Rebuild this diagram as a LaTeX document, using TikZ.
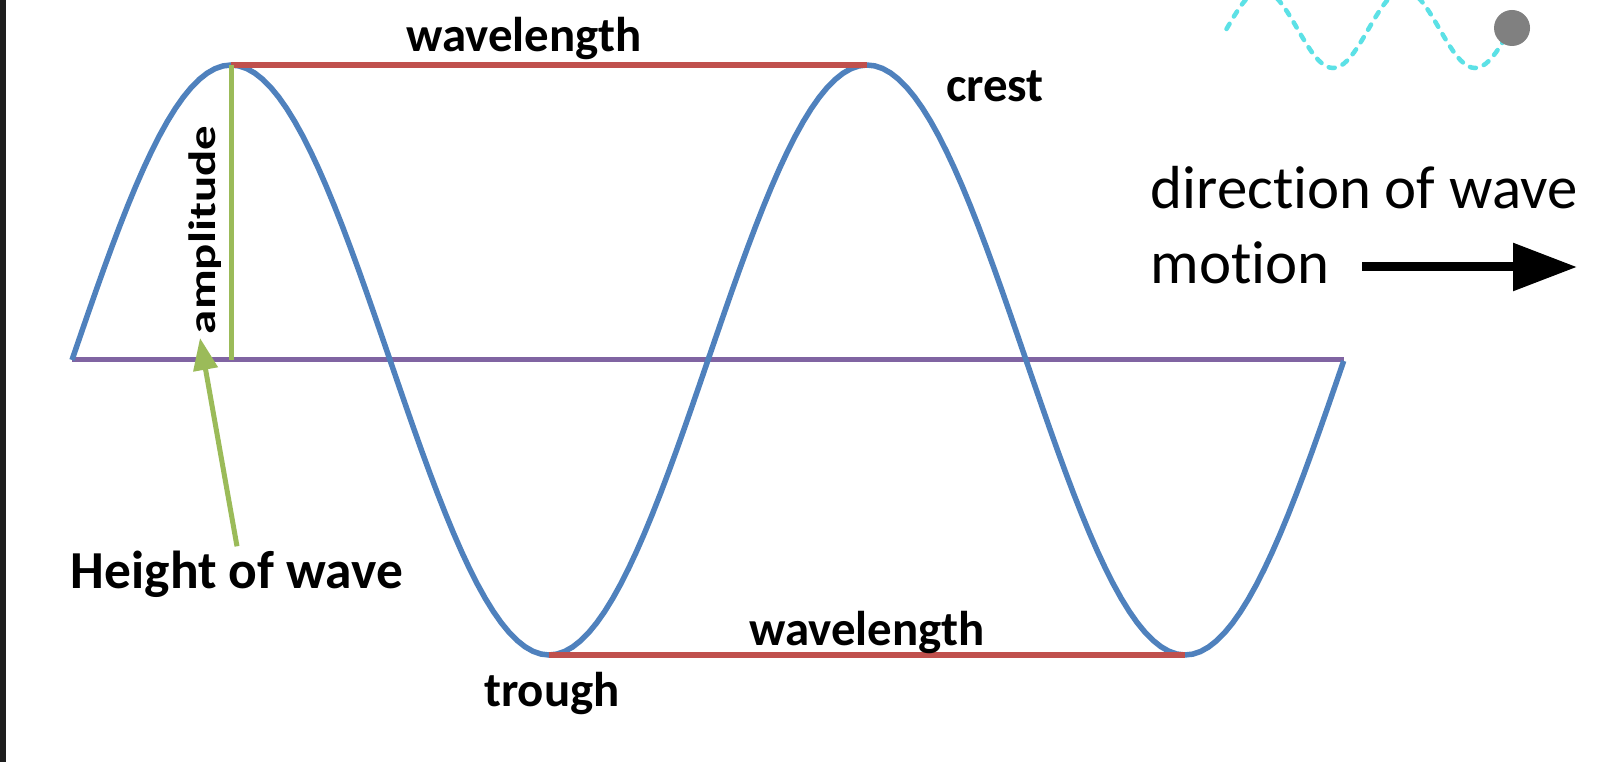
\documentclass[tikz,border=0pt]{standalone}
\usepackage{fontspec}
\setmainfont{Carlito}[Ligatures=NoCommon]
\usepackage{graphicx}
\usetikzlibrary{arrows.meta}
\definecolor{wavblue}{HTML}{4F81BD}
\definecolor{wavred}{HTML}{C0504D}
\definecolor{ampgreen}{HTML}{9BBB59}
\definecolor{restpurple}{HTML}{8064A2}
\definecolor{loadcyan}{HTML}{5CE1E6}
\definecolor{stripdark}{HTML}{1E1E1E}

\begin{document}
\begin{tikzpicture}[
  wave/.style={wavblue, line width=0.055cm},
  span/.style={wavred, line width=0.06cm},
  lbl/.style={font=\fontsize{13.9}{16}\selectfont\bfseries, inner sep=1pt},
  big/.style={font=\fontsize{17.3}{21}\selectfont, inner sep=0pt, anchor=base west}
]
% Canvas: 1600x762 px -> 16 x 7.62 cm (1px = 0.01cm)
\useasboundingbox (0,0) rectangle (16,7.62);
\fill[white] (0,0) rectangle (16,7.62);
\fill[stripdark] (0,0) rectangle (0.06,7.62);

% Key points: rest line y=4.02, amplitude 2.95, period 6.36 from x=0.72
\coordinate (start) at (0.72,4.02);
\coordinate (finish) at (13.44,4.02);
\coordinate (crestA) at (2.31,6.97);
\coordinate (crestB) at (8.67,6.97);
\coordinate (troughA) at (5.49,1.07);
\coordinate (troughB) at (11.85,1.07);
\coordinate (ampfoot) at (2.31,4.02);

% Rest line and wave (two periods)
\draw[restpurple, line width=0.05cm] (start) -- (finish);
\draw[wave] plot[domain=0:2, samples=161] ({0.72+6.36*\x},{4.02+2.95*sin(360*\x)});

% Wavelength spans, crest to crest and trough to trough
\draw[span] (crestA) -- (crestB);
\draw[span] (troughA) -- (troughB);

% Amplitude
\draw[ampgreen, line width=0.05cm] (crestA) -- (ampfoot);
\node[lbl, rotate=90] (amp) at (2.05,5.32) {\scalebox{1}[0.78]{amplitude}};

% Labels
\node[lbl, anchor=base] (wltop) at (5.24,7.10) {wavelength};
\node[lbl, anchor=base] (wlbot) at (8.67,1.17) {wavelength};
\node[lbl, anchor=base] (crest) at (9.95,6.60) {crest};
\node[lbl, anchor=base] (trough) at (5.52,0.56) {trough};

% Height of wave pointer
\node[font=\fontsize{15.2}{18}\selectfont\bfseries, anchor=base, inner sep=1pt] (height) at (2.37,1.74) {Height of wave};
\coordinate (amptip) at (2.00,4.24);
\draw[ampgreen, line width=0.05cm, -{Triangle[length=3.2mm, width=2.4mm]}] (height.north) -- (amptip);

% Direction of motion
\node[big] (dir) at (11.50,5.53) {direction of wave};
\node[big] (motion) at (11.50,4.78) {motion};
\coordinate (arrowstart) at (13.62,4.95);
\coordinate (arrowend) at (15.77,4.95);
\draw[line width=0.09cm, -{Triangle[length=6.4mm, width=4.6mm]}] (arrowstart) -- (arrowend);

% Dashed loading wave with dot, top right (cut by the top edge)
\begin{scope}
  \clip (0,0) rectangle (16,7.62);
  \draw[loadcyan, line width=0.045cm, line cap=round, dash pattern=on 0.06cm off 0.085cm]
    plot[domain=0:2, samples=81] ({12.265+1.42*\x},{7.33+0.39*sin(360*\x)});
\end{scope}
\fill[gray] (15.12,7.34) circle (0.18);
\end{tikzpicture}
\end{document}
